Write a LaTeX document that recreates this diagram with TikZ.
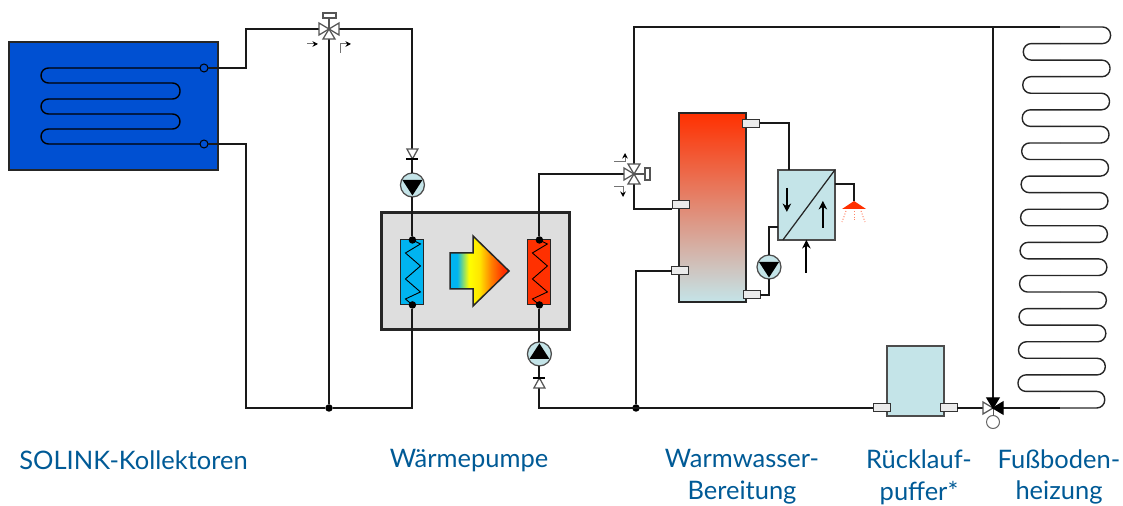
\documentclass[tikz,border=0pt]{standalone}
\usepackage{fontspec}
\setmainfont{Lato}
\usepackage{tikz}
\usepackage{xcolor}
\usetikzlibrary{calc}
\usetikzlibrary{positioning}
\usetikzlibrary{shapes,arrows.meta}

\definecolor{collectorBlue}{HTML}{0050D2}
\definecolor{coldBlue}{HTML}{00B4F0}
\definecolor{hotRed}{HTML}{FF3000}
\definecolor{paleTeal}{HTML}{C4E4E8}
\definecolor{boxGray}{HTML}{DEDEDE}
\definecolor{labelBlue}{HTML}{005A96}
\definecolor{valveGray}{HTML}{555555}
\pgfdeclarehorizontalshading{heatShade}{100bp}{color(0bp)=(coldBlue); color(31bp)=(coldBlue); color(41bp)=(yellow); color(50bp)=(yellow!80!orange); color(60bp)=(orange); color(70bp)=(hotRed); color(100bp)=(hotRed)}

\begin{document}
\begin{tikzpicture}[x=0.02cm, y=-0.02cm, outer sep=0pt]
    \useasboundingbox (0,0) rectangle (1123,506);
    % Set styles
    \tikzset{
        collectorNode/.style={
                draw=black!85,
                fill=collectorBlue,
                line width=0.05cm,
                rectangle,
                minimum height=2.56cm,
                minimum width=4.18cm
            }
    }
    \tikzset{
        heatpumpNode/.style={
                draw=black!85,
                fill=boxGray,
                line width=0.06cm,
                rectangle,
                minimum height=2.34cm,
                minimum width=3.76cm
            }
    }
    \tikzset{
        exchangerNode/.style={
                draw=black!85,
                line width=0.02cm,
                rectangle,
                minimum height=1.3cm,
                minimum width=0.46cm
            }
    }
    \tikzset{
        tealNode/.style={
                draw=black!70,
                fill=paleTeal,
                line width=0.03cm,
                rectangle,
                minimum height=1.4cm,
                minimum width=1.14cm
            }
    }
    \tikzset{
        portNode/.style={
                draw=black!80,
                fill=black!8,
                line width=0.02cm,
                rectangle,
                inner sep=0pt,
                minimum height=0.16cm,
                minimum width=0.34cm
            }
    }
    \tikzset{
        pumpNode/.style={
                draw=black!70,
                fill=paleTeal,
                line width=0.025cm,
                circle,
                inner sep=0pt,
                minimum size=0.48cm
            }
    }
    \tikzset{
        dotNode/.style={
                fill=black,
                circle,
                inner sep=0pt,
                minimum size=0.15cm
            }
    }
    \tikzset{
        endNode/.style={
                draw=black,
                fill=collectorBlue,
                line width=0.02cm,
                circle,
                inner sep=0pt,
                minimum size=0.16cm
            }
    }
    \tikzset{
        titleNode/.style={
                text=labelBlue,
                align=center,
                font=\fontsize{14.5}{18}\selectfont
            }
    }
    \tikzset{pipe/.style={line width=0.04cm, black!90}}
    \tikzset{coil/.style={line width=0.028cm, black, rounded corners=0.15cm}}
    \tikzset{floorCoil/.style={line width=0.028cm, black!85, rounded corners=0.16cm}}
    \tikzset{zigzag/.style={line width=0.018cm, black}}
    \tikzset{valveTri/.style={draw=valveGray, fill=white, line width=0.025cm}}
    \tikzset{valveBlack/.style={draw=black, fill=black, line width=0.025cm}}
    \tikzset{flow/.style={draw=black!55, line width=0.02cm, -{Stealth[black, length=0.11cm, width=0.11cm]}}}
    \tikzset{arrow/.style={line width=0.04cm, -{Stealth[length=0.17cm, width=0.17cm]}}}
    % Placing nodes
    \node[collectorNode] (collector) at (113.5,106) {};
    \node[heatpumpNode, right = 3.28cm of collector, yshift = -3.31cm] (heatpump) {};
    \node[exchangerNode, fill=coldBlue, right = 0.38cm of heatpump.west, yshift = -0.02cm] (evaporator) {};
    \node[exchangerNode, fill=hotRed, left = 0.38cm of heatpump.east, yshift = -0.02cm] (condenser) {};
    \node[draw=black!85, line width=0.03cm, top color=hotRed, bottom color=paleTeal, rectangle,
        minimum height=3.78cm, minimum width=1.34cm,
        right = 2.18cm of heatpump, yshift = 1.28cm] (tank) {};
    \node[tealNode, right = 0.64cm of tank, yshift = 0.05cm] (transfer) {};
    \node[tealNode] (buffer) at (915.5,381) {};
    \node[portNode] (portMid) at (680.5,205) {};
    \node[portNode] (portLow) at (680,271) {};
    \node[portNode] (portTop) at (751,123.5) {};
    \node[portNode] (portBottom) at (751.5,295) {};
    \node[portNode] (portBufferIn) at (881.5,408) {};
    \node[portNode] (portBufferOut) at (948.5,408) {};
    \node[pumpNode, above = 0.86cm of evaporator] (pumpCold) {};
    \node[pumpNode, below = 0.74cm of condenser] (pumpHot) {};
    \node[pumpNode] (pumpWater) at (769,267) {};
    \node[dotNode] (evapTop) at (evaporator.north) {};
    \node[dotNode] (evapBottom) at (evaporator.south) {};
    \node[dotNode] (condTop) at (condenser.north) {};
    \node[dotNode] (condBottom) at (condenser.south) {};
    \node[dotNode] (teeBypass) at (329,408) {};
    \node[dotNode] (teeReturn) at (636,408) {};
    \node[endNode] (coilIn) at (204,68) {};
    \node[endNode] (coilOut) at (204,144) {};
    \coordinate (heatTail) at (450,271);
    \coordinate (valveSolar) at (329,29);
    \coordinate (valveWater) at (634,174);
    \coordinate (valveFloor) at (993,408);
    \coordinate (teeFloor) at (993,27);
    \coordinate (floorIn) at (1060,27);
    \coordinate (floorOut) at (1060,408);
    \coordinate (shower) at (854,201);
    \node[draw=black!60, fill=white, line width=0.02cm, circle, inner sep=0pt, minimum size=0.26cm] (valveDrive) at (993,422) {};
    \node[titleNode] (titleCollector) at (133.5,460) {SOLINK-Kollektoren};
    \node[titleNode] (titleHeatpump) at (469,461) {Wärmepumpe};
    \node[titleNode] (titleWater) at (742,477) {Warmwasser-\\Bereitung};
    \node[titleNode] (titleBuffer) at (919,477) {Rücklauf-\\puffer*};
    \node[titleNode] (titleFloor) at (1059,477) {Fußboden-\\heizung};
    % Draw pump marks
    \fill (pumpCold.center) ++(-10,-5) -- ++(20,0) -- ++(-10,15.5) -- cycle;
    \fill (pumpHot.center) ++(-10,5) -- ++(20,0) -- ++(-10,-15.5) -- cycle;
    \fill (pumpWater.center) ++(-10,-5) -- ++(20,0) -- ++(-10,15.5) -- cycle;
    % Draw heat arrow
    \path[draw=black!85, line width=0.03cm, shade, shading=heatShade] (heatTail) ++(0,-18) -- ++(23,0) -- ++(0,-17)
        -- ++(36,35) -- ++(-36,35) -- ++(0,-17) -- ++(-23,0) -- cycle;
    % Draw coils
    \draw[coil] (coilIn.west) -- (41,68) -- (41,83) -- (180,83) -- (180,99) -- (41,99) -- (41,114)
        -- (180,114) -- (180,129) -- (41,129) -- (41,144) -- (coilOut.west);
    \foreach \i in {0,2,...,22} {
            \pgfmathsetmacro{\ya}{27+\i*16.565}
            \pgfmathsetmacro{\yb}{27+(\i+1)*16.565}
            \pgfmathsetmacro{\xr}{1111-\ya*0.016}
            \draw[floorCoil] (floorIn |- 0,\ya) -- (\xr,\ya) -- (\xr,\yb) -- (floorIn |- 0,\yb);
        }
    \foreach \i in {1,3,...,21} {
            \pgfmathsetmacro{\ya}{27+\i*16.565}
            \pgfmathsetmacro{\yb}{27+(\i+1)*16.565}
            \pgfmathsetmacro{\xl}{1024-\ya*0.016}
            \draw[floorCoil] (floorIn |- 0,\ya) -- (\xl,\ya) -- (\xl,\yb) -- (floorIn |- 0,\yb);
        }
    % Draw pipes
    \draw[pipe] (coilIn.east) -- (246,68) |- (valveSolar);
    \draw[pipe] (coilOut.east) -- (246,144) |- (teeBypass);
    \draw[pipe] (teeBypass) -- (valveSolar);
    \draw[pipe] (valveSolar) -| (pumpCold);
    \draw[pipe] (pumpCold) -- (evapTop);
    \draw[pipe] (evapBottom) |- (teeBypass);
    \draw[pipe] (condTop) |- (valveWater);
    \draw[pipe] (condBottom) -- (pumpHot);
    \draw[pipe] (pumpHot) |- (portBufferIn.west);
    \draw[pipe] (teeReturn) |- (portLow.west);
    \draw[pipe] (valveWater) |- (portMid.south west);
    \draw[pipe] (valveWater) |- (floorIn);
    \draw[pipe] (teeFloor) -- (valveFloor);
    \draw[pipe] (portBufferOut.east) -- (valveFloor);
    \draw[pipe] (valveFloor) -- (floorOut);
    \draw[pipe] (portTop.east) -| ($(transfer.north west)+(11,0)$);
    \draw[pipe] (pumpWater) |- ($(transfer.south west)+(0,-13)$);
    \draw[pipe] (pumpWater) |- (portBottom.east);
    \draw[pipe] ($(transfer.north east)+(0,14)$) -| (shower);
    % Draw valves
    \draw[valveGray, line width=0.025cm, fill=white] (valveSolar) ++(-6,-16) rectangle ++(13,5);
    \draw[valveGray, line width=0.025cm] (valveSolar) -- ++(0,-11);
    \draw[valveTri] (valveSolar) -- ++(-10,-6) -- ++(0,12) -- cycle;
    \draw[valveTri] (valveSolar) -- ++(10,-6) -- ++(0,12) -- cycle;
    \draw[valveTri] (valveSolar) -- ++(-6,10) -- ++(12,0) -- cycle;
    \draw[valveGray, line width=0.025cm] (valveWater) -- ++(11,0);
    \draw[valveGray, line width=0.025cm, fill=white] (valveWater) ++(11,-6) rectangle ++(5,12);
    \draw[valveTri] (valveWater) -- ++(-10,-6) -- ++(0,12) -- cycle;
    \draw[valveTri] (valveWater) -- ++(-6,-10) -- ++(12,0) -- cycle;
    \draw[valveTri] (valveWater) -- ++(-6,10) -- ++(12,0) -- cycle;
    \draw[valveGray, line width=0.02cm] (valveFloor) -- (valveDrive);
    \draw[valveTri] (valveFloor) -- ++(-10,-6) -- ++(0,12) -- cycle;
    \draw[valveBlack] (valveFloor) -- ++(10,-6) -- ++(0,12) -- cycle;
    \draw[valveBlack] (valveFloor) -- ++(-6,-10) -- ++(12,0) -- cycle;
    % Draw check valves
    \draw[valveTri] (pumpCold.north) ++(-5.5,-24) -- ++(11,0) -- ++(-5.5,10) -- cycle;
    \draw[line width=0.025cm] (pumpCold.north) ++(-6,-14) -- ++(12,0);
    \draw[valveTri] (pumpHot.south) ++(-5.5,22) -- ++(11,0) -- ++(-5.5,-10) -- cycle;
    \draw[line width=0.025cm] (pumpHot.south) ++(-6,12) -- ++(12,0);
    % Draw flow arrows
    \draw[flow] (valveSolar) ++(-22,15) -- ++(11,0);
    \draw[flow] (valveSolar) ++(11,24) |- ++(11,-9);
    \draw[flow] (valveWater) ++(-20,-12) -| ++(11,-9);
    \draw[flow] (valveWater) ++(-20,13) -| ++(9,10);
    \draw[arrow] (transfer.north west) ++(9,18) -- ++(0,24);
    \draw[arrow] (transfer.north west) ++(45,58) -- ++(0,-27);
    \draw[arrow] (transfer.south) ++(0,33) -- (transfer.south);
    \draw[line width=0.025cm, black!85] (transfer.north east) -- ($(transfer.south west)+(5,0)$);
    % Draw heating coils
    \draw[zigzag] (evapTop.center) -- ++(8,4) -- ++(-15,9) -- ++(15,13) -- ++(-15,13) -- ++(15,13) -- ++(-15,7) -- (evapBottom.center);
    \draw[zigzag] (condTop.center) -- ++(8,4) -- ++(-15,9) -- ++(15,13) -- ++(-15,13) -- ++(15,13) -- ++(-15,7) -- (condBottom.center);
    % Draw shower
    \fill[hotRed] (shower) -- ++(-12,8) -- ++(24,0) -- cycle;
    \draw[hotRed!60, line width=0.02cm, densely dotted] (shower) ++(-8,10) -- ++(-4,11);
    \draw[hotRed!60, line width=0.02cm, densely dotted] (shower) ++(0,10) -- ++(0,10);
    \draw[hotRed!60, line width=0.02cm, densely dotted] (shower) ++(7,10) -- ++(4,11);
\end{tikzpicture}
\end{document}
